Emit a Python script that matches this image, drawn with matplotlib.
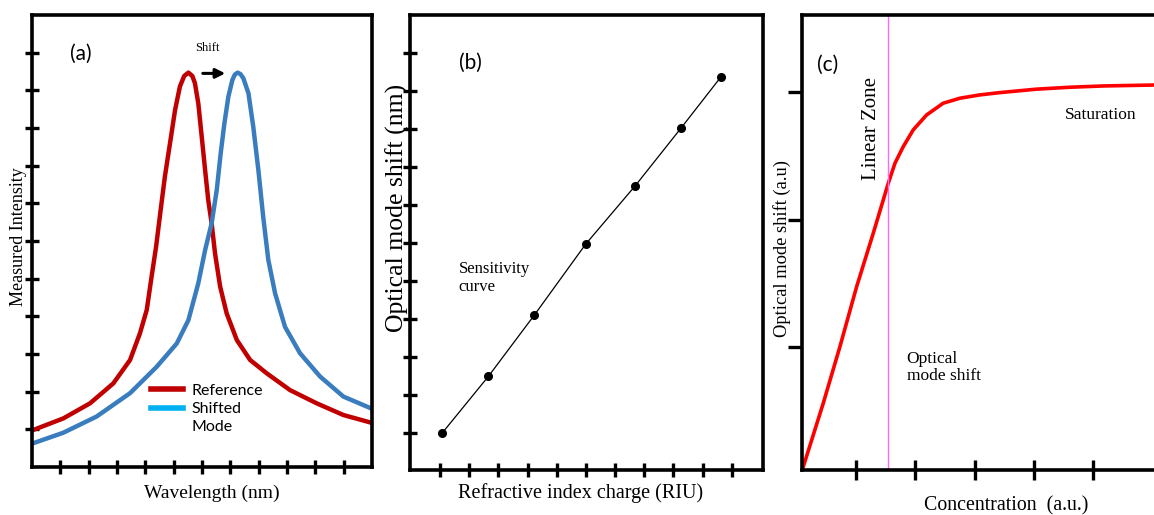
import matplotlib
matplotlib.use("Agg")
import matplotlib.pyplot as plt
from matplotlib.lines import Line2D

SERIF = "Liberation Serif"
SANS = "Lato"

# (a) resonance spectra (x: wavelength, y: intensity, arb.)
ref_x = [0.0, 1.105, 2.047, 2.87, 3.46, 3.81, 4.05, 4.22, 4.38, 4.54, 4.69, 4.87, 5.05,
         5.22, 5.37, 5.52, 5.66, 5.75, 5.87, 5.99, 6.11, 6.22, 6.34, 6.46, 6.64, 6.87,
         7.23, 7.70, 8.28, 9.11, 10.05, 10.99, 12.05]
ref_y = [0.97, 1.29, 1.69, 2.22, 2.84, 3.55, 4.17, 5.05, 5.85, 6.82, 7.71, 8.59, 9.48,
         10.10, 10.38, 10.47, 10.38, 10.19, 9.65, 8.77, 7.88, 7.09, 6.47, 5.67, 4.79, 4.08,
         3.37, 2.84, 2.49, 2.04, 1.69, 1.38, 1.16]
shf_x = [0.0, 1.105, 2.28, 3.46, 4.40, 5.11, 5.52, 5.87, 6.11, 6.34, 6.52, 6.66, 6.79,
         6.93, 7.07, 7.16, 7.26, 7.36, 7.46, 7.64, 7.81, 7.99, 8.16, 8.34, 8.58, 8.93,
         9.46, 10.17, 10.99, 12.05]
shf_y = [0.62, 0.91, 1.34, 1.96, 2.66, 3.28, 3.90, 4.88, 5.76, 6.47, 7.35, 8.33, 9.12,
         9.83, 10.27, 10.42, 10.47, 10.43, 10.32, 9.92, 9.03, 7.88, 6.64, 5.50, 4.61, 3.72,
         3.02, 2.40, 1.87, 1.53]

# (b) sensitivity curve
riu = [0.08, 1.66, 3.23, 4.99, 6.68, 8.25, 9.63]
shift_nm = [0.0, 1.49, 3.10, 4.97, 6.50, 8.02, 9.38]

# (c) saturation curve
conc = [0.10, 0.449, 0.730, 1.012, 1.292, 1.545, 1.658, 1.798, 1.966, 2.192, 2.472,
        2.754, 3.091, 3.428, 4.047, 4.609, 5.170, 6.10]
shift_au = [0.05, 0.565, 1.008, 1.478, 1.896, 2.287, 2.444, 2.574, 2.705, 2.822, 2.914,
            2.953, 2.979, 2.997, 3.024, 3.039, 3.049, 3.057]
linear_limit = 1.545

W, H = 1154, 515
fig = plt.figure(figsize=(W / 100, H / 100), dpi=100)


def px_axes(l, t, r, b):
    return fig.add_axes([l / W, 1 - b / H, (r - l) / W, (b - t) / H])


def frame(ax, lw=2.6):
    for s in ax.spines.values():
        s.set_linewidth(lw)
        s.set_color("black")
    ax.tick_params(labelbottom=False, labelleft=False, length=10, width=2.4,
                   direction="inout", color="black")


# ---- (a)
ax = px_axes(32, 15, 372, 467)
frame(ax)
ax.plot(ref_x, ref_y, color="#C00000", lw=3.2, solid_joinstyle="round")
ax.plot(shf_x, shf_y, color="#3A7DBF", lw=3.2, solid_joinstyle="round")
ax.set_xlim(0, 12)
ax.set_ylim(0, 12)
ax.set_xticks(range(1, 12))
ax.set_yticks(range(1, 12))
ax.annotate("", xy=(6.92, 10.45), xytext=(5.93, 10.45),
            arrowprops=dict(arrowstyle="-|>", color="black", lw=2.2, mutation_scale=14))
ax.text(6.19, 11.12, "Shift", ha="center", va="center", family=SERIF, fontsize=9)
ax.text(1.73, 10.96, "(a)", ha="center", va="center", family=SANS, fontsize=15)
handles = [Line2D([], [], color="#C00000", lw=4),
           Line2D([], [], color="#00B0F0", lw=4),
           Line2D([], [], color="none")]
ax.legend(handles, ["Reference", "Shifted", "Mode"], loc="upper left",
          bbox_to_anchor=(0.35, 0.184), frameon=False, borderpad=0, borderaxespad=0,
          labelspacing=0.25, handlelength=2.0, handletextpad=0.55,
          prop=dict(family=SANS, size=11.5))
ax.set_xlabel("Wavelength (nm)", family=SERIF, fontsize=14, va="center")
ax.xaxis.set_label_coords(0.529, -0.0575)
ax.set_ylabel("Measured Intensity", family=SERIF, fontsize=13, va="center")
ax.yaxis.set_label_coords(-0.041, 0.509)

# ---- (b)
ax = px_axes(410, 15, 763, 470)
frame(ax)
ax.plot(riu, shift_nm, color="black", lw=0.9, marker="o", ms=5.5, mfc="black", mec="black")
ax.set_xlim(-1.03, 11.07)
ax.set_ylim(-0.98, 11.01)
ax.set_xticks(range(0, 11))
ax.set_yticks(range(0, 11))
ax.text(1.03, 9.74, "(b)", ha="center", va="center", family=SANS, fontsize=15)
ax.text(0.63, 4.08, "Sensitivity\ncurve", ha="left", va="center", family=SERIF,
        fontsize=12, linespacing=1.1)
ax.set_xlabel("Refractive index charge (RIU)", family=SERIF, fontsize=14.5, va="center")
ax.xaxis.set_label_coords(0.484, -0.0505)
ax.set_ylabel("Optical mode shift (nm)", family=SERIF, fontsize=18.5, va="center")
ax.yaxis.set_label_coords(-0.0368, 0.576)

# ---- (c)
ax = px_axes(802, 15, 1160, 470)
frame(ax)
ax.spines["right"].set_visible(False)
ax.plot(conc, shift_au, color="#FF0000", lw=2.6, solid_joinstyle="round")
ax.axvline(linear_limit, color="#FF66FF", lw=1.0)
ax.set_xlim(0.089, 6.13)
ax.set_ylim(0.04, 3.605)
ax.set_xticks(range(1, 6))
ax.set_yticks([1, 2, 3])
ax.tick_params(axis="y", direction="out", length=10)
ax.tick_params(axis="x", length=14)
ax.text(0.516, 3.214, "(c)", ha="center", va="center", family=SANS, fontsize=15)
ax.text(1.265, 2.713, "Linear Zone", rotation=90, ha="center", va="center",
        family=SERIF, fontsize=15)
ax.text(5.13, 2.822, "Saturation", ha="center", va="center", family=SERIF, fontsize=12.5)
ax.text(1.855, 0.841, "Optical\nmode shift", ha="left", va="center", family=SERIF,
        fontsize=12.5, linespacing=1.05)
ax.set_xlabel("Concentration  (a.u.)", family=SERIF, fontsize=14.3, va="center")
ax.xaxis.set_label_coords(0.569, -0.079)
ax.set_ylabel("Optical mode shift (a.u)", family=SERIF, fontsize=13.3, va="center")
ax.yaxis.set_label_coords(-0.0567, 0.487)

fig.savefig("out.png", dpi=100)
